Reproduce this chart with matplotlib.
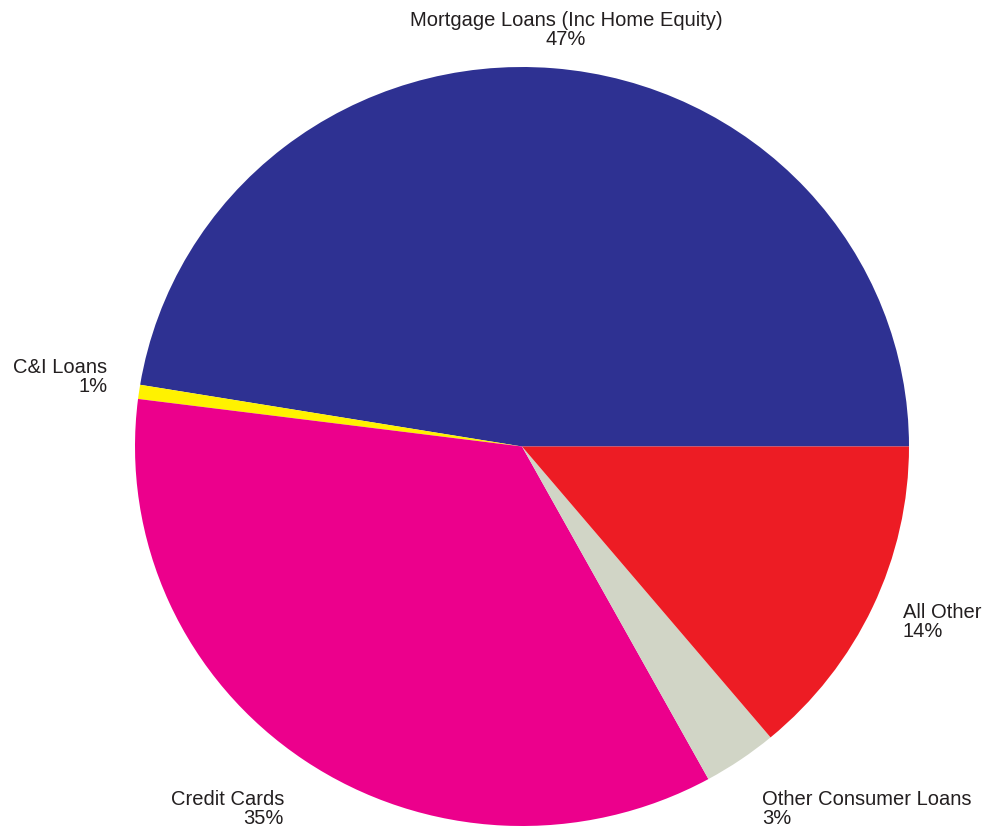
import matplotlib
matplotlib.use('Agg')
import matplotlib.pyplot as plt

# Loan portfolio shares (percent), counter-clockwise from 3 o'clock
categories = ['Mortgage Loans (Inc Home Equity)', 'C&I Loans', 'Credit Cards',
              'Other Consumer Loans', 'All Other']
shares = [47.4, 0.6, 35.0, 3.1, 13.9]
pct_labels = [47, 1, 35, 3, 14]
colors = ['#2E3192', '#FFF200', '#EC008C', '#D1D5C6', '#ED1C24']

# label anchors in pie units (radius = 1) and their alignment
label_xy = [(0.114, 1.097), (-1.072, 0.182), (-0.615, -0.955),
            (0.620, -0.955), (0.984, -0.462)]
label_ha = ['center', 'right', 'right', 'left', 'left']

plt.rcParams['font.family'] = ['Liberation Sans', 'DejaVu Sans']

fig = plt.figure(figsize=(9.87, 8.32), dpi=100)
W, H = 987, 832
# pie spans x 135..909, y 67..826 (pixels, from top)
ax = fig.add_axes([135 / W, (H - 826) / H, 774 / W, 759 / H])

wedges, _ = ax.pie(shares, colors=colors, startangle=0, counterclock=True,
                   wedgeprops=dict(linewidth=0))
ax.set_aspect('auto')
ax.set_xlim(-1, 1)
ax.set_ylim(-1, 1)
ax.set_axis_off()

for name, pct, (x, y), ha in zip(categories, pct_labels, label_xy, label_ha):
    ax.text(x, y, '{}\n{}%'.format(name, pct), ha=ha, va='center',
            multialignment=ha, fontsize=14.5, color='#231F20', clip_on=False,
            linespacing=1.0)

fig.savefig('out.png', dpi=100)
